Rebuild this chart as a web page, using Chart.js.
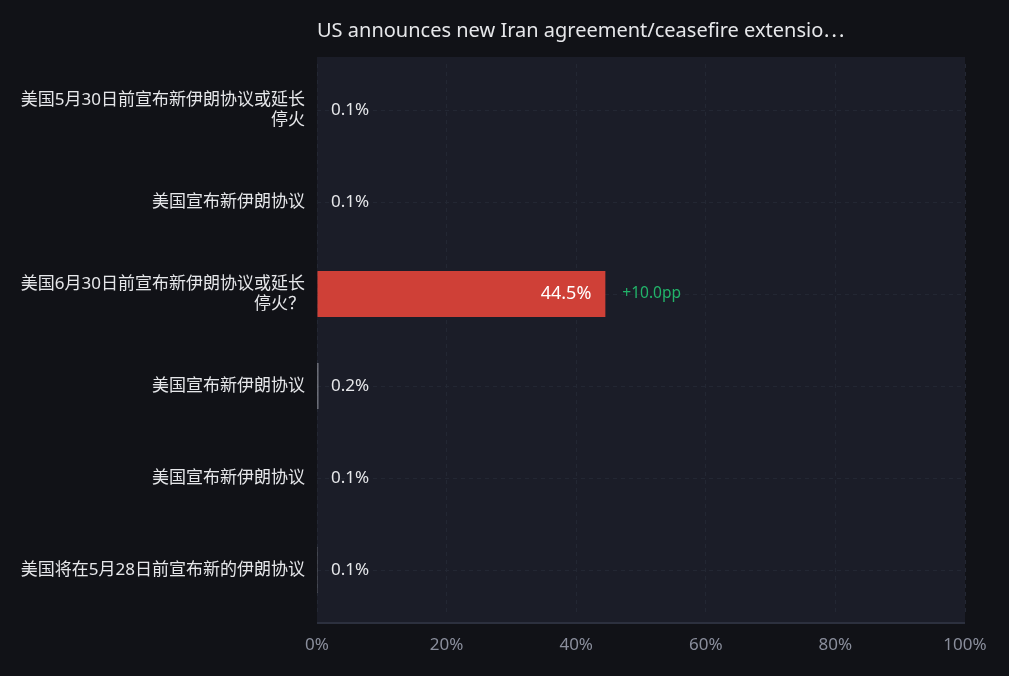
<!DOCTYPE html>
<html>
<head>
<meta charset="utf-8">
<script src="https://cdn.jsdelivr.net/npm/chart.js@4.4.1/dist/chart.umd.min.js"></script>
<style>
  html, body { margin: 0; padding: 0; background: #111217; }
  #wrap { width: 1009px; height: 676px; position: relative; }
</style>
</head>
<body>
<div id="wrap"><canvas id="chart"></canvas></div>
<script>
// DATA
const chartTitle = "US announces new Iran agreement/ceasefire extensio\u22EF";
const categories = [
  ["美国5月30日前宣布新伊朗协议或延长", "停火"],
  "美国宣布新伊朗协议",
  ["美国6月30日前宣布新伊朗协议或延长", "停火？"],
  "美国宣布新伊朗协议",
  "美国宣布新伊朗协议",
  "美国将在5月28日前宣布新的伊朗协议"
];
const probabilities = [0.1, 0.1, 44.5, 0.2, 0.1, 0.1];
const changes = [null, null, "+10.0pp", null, null, null];
const xTicks = [0, 20, 40, 60, 80, 100];

const FONT = "'Noto Sans', 'Noto Sans CJK SC', sans-serif";
const barColors = ["#1b1d28", "#1b1d28", "#cf4037", "#b4b6be", "#1b1d28", "#ffffff"];

// PLOT BACKGROUND, TITLE, BASELINE
const framePlugin = {
  id: "frame",
  beforeDraw(chart) {
    const { ctx, chartArea: a } = chart;
    ctx.save();
    ctx.fillStyle = "#1b1d28";
    ctx.fillRect(a.left, a.top - 7, a.right - a.left, a.bottom - a.top + 14);
    ctx.restore();
  },
  afterDatasetsDraw(chart) {
    const { ctx, chartArea: a } = chart;
    ctx.save();
    ctx.strokeStyle = "#2c303e";
    ctx.lineWidth = 2;
    ctx.beginPath();
    ctx.moveTo(a.left, a.bottom + 7);
    ctx.lineTo(a.right, a.bottom + 7);
    ctx.stroke();

    ctx.fillStyle = "#e6e7ea";
    ctx.font = "20px " + FONT;
    ctx.textBaseline = "middle";
    ctx.textAlign = "left";
    ctx.fillText(chartTitle, a.left, 31);
    ctx.restore();
  }
};

// VALUE LABELS
const valuePlugin = {
  id: "values",
  afterDatasetsDraw(chart) {
    const { ctx } = chart;
    const meta = chart.getDatasetMeta(0);
    const x0 = chart.scales.x.getPixelForValue(0);
    ctx.save();
    ctx.textBaseline = "middle";
    meta.data.forEach(function(bar, i) {
      const v = probabilities[i];
      const txt = v.toFixed(1) + "%";
      const w = bar.x - x0;
      let end;
      if (w > 80) {
        ctx.font = "18px " + FONT;
        ctx.fillStyle = "#ffffff";
        ctx.textAlign = "right";
        ctx.fillText(txt, bar.x - 14, bar.y);
        end = bar.x;
      } else {
        ctx.font = "17px " + FONT;
        ctx.fillStyle = "#e6e7ea";
        ctx.textAlign = "left";
        ctx.fillText(txt, x0 + 14, bar.y);
        end = x0 + 14 + ctx.measureText(txt).width;
      }
      if (changes[i]) {
        ctx.font = "15.5px " + FONT;
        ctx.fillStyle = "#22b46a";
        ctx.textAlign = "left";
        ctx.fillText(changes[i], end + 17, bar.y);
      }
    });
    ctx.restore();
  }
};

new Chart(document.getElementById("chart"), {
  type: "bar",
  data: {
    labels: categories,
    datasets: [{
      data: probabilities,
      backgroundColor: barColors,
      borderWidth: 0,
      barPercentage: 0.5,
      categoryPercentage: 1.0
    }]
  },
  options: {
    indexAxis: "y",
    responsive: true,
    maintainAspectRatio: false,
    animation: false,
    layout: { padding: { top: 64, right: 44, left: 0, bottom: 0 } },
    plugins: {
      legend: { display: false },
      tooltip: { enabled: false }
    },
    scales: {
      x: {
        min: 0,
        max: 100,
        afterBuildTicks(scale) {
          scale.ticks = xTicks.map(v => ({ value: v }));
        },
        afterFit(scale) { scale.height = 60; },
        grid: {
          color: "#232733",
          drawTicks: false
        },
        border: { display: false, dash: [4, 4] },
        ticks: {
          padding: 19,
          color: "#8a8e9c",
          font: { size: 17, family: FONT },
          callback: v => v + "%"
        }
      },
      y: {
        afterFit(scale) { scale.width = 317; },
        grid: {
          offset: false,
          color: "#232733",
          drawTicks: false
        },
        border: { display: false, dash: [4, 4] },
        ticks: {
          padding: 12,
          color: "#e6e7ea",
          font: { size: 17, family: FONT, lineHeight: 1.2 }
        }
      }
    }
  },
  plugins: [framePlugin, valuePlugin]
});
</script>
</body>
</html>
